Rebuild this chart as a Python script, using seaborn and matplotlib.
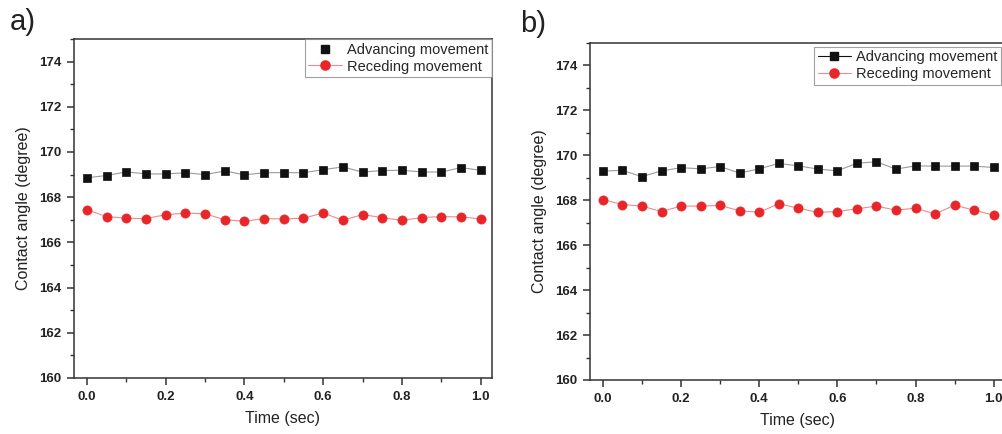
import numpy as np
import pandas as pd
import matplotlib
matplotlib.use("Agg")
import matplotlib.pyplot as plt
from matplotlib.lines import Line2D
from matplotlib.ticker import MultipleLocator
import seaborn as sns

time_sec = [0.0, 0.05, 0.1, 0.15, 0.2, 0.25, 0.3, 0.35, 0.4, 0.45, 0.5,
            0.55, 0.6, 0.65, 0.7, 0.75, 0.8, 0.85, 0.9, 0.95, 1.0]

adv_a = [168.86, 168.96, 169.12, 169.03, 169.03, 169.08, 169.00, 169.16, 168.99, 169.08, 169.09,
         169.08, 169.22, 169.34, 169.11, 169.18, 169.19, 169.12, 169.11, 169.31, 169.19]
rec_a = [167.44, 167.14, 167.07, 167.05, 167.23, 167.29, 167.27, 167.00, 166.94, 167.05, 167.04,
         167.07, 167.30, 166.98, 167.23, 167.10, 166.97, 167.10, 167.14, 167.13, 167.04]

adv_b = [169.30, 169.33, 169.05, 169.31, 169.45, 169.40, 169.50, 169.21, 169.40, 169.64, 169.53,
         169.39, 169.31, 169.65, 169.71, 169.39, 169.53, 169.52, 169.52, 169.52, 169.46]
rec_b = [168.03, 167.81, 167.74, 167.50, 167.74, 167.74, 167.77, 167.53, 167.47, 167.84, 167.65,
         167.46, 167.50, 167.62, 167.74, 167.56, 167.65, 167.39, 167.78, 167.56, 167.34]

panel_labels = ["a)", "b)"]
series_names = ["Advancing movement", "Receding movement"]
xlabel = "Time (sec)"
ylabel = "Contact angle (degree)"
xticks = [0.0, 0.2, 0.4, 0.6, 0.8, 1.0]
yticks = [160, 162, 164, 166, 168, 170, 172, 174]

sns.set_theme(style="ticks")
plt.rcParams["font.family"] = ["Liberation Sans", "DejaVu Sans"]

RED = "#e8262a"
RED_LINE = "#f08a8c"
BLK = "#111111"
GRAY_LINE = "#9a9a9a"
SPINE = "#333333"

fig = plt.figure(figsize=(10.03, 4.34), dpi=100)
W, H = 1003, 434
ax_a = fig.add_axes([74 / W, 1 - 378 / H, 418 / W, (378 - 39) / H])
ax_b = fig.add_axes([590 / W, 1 - 380 / H, 415 / W, (380 - 43) / H])

for ax, adv, rec, adv_line in [(ax_a, adv_a, rec_a, False),
                               (ax_b, adv_b, rec_b, True)]:
    df = pd.DataFrame({"t": time_sec, "adv": adv, "rec": rec})
    sns.lineplot(data=df, x="t", y="adv", ax=ax, color=GRAY_LINE, lw=0.8,
                 marker="s", markersize=5.8, markerfacecolor=BLK,
                 markeredgecolor=BLK, markeredgewidth=0.5, zorder=3)
    sns.lineplot(data=df, x="t", y="rec", ax=ax, color=RED_LINE, lw=0.8,
                 marker="o", markersize=6.6, markerfacecolor=RED,
                 markeredgecolor=RED, markeredgewidth=0.5, zorder=3)
    ax.set_xlim(-0.033, 1.029)
    ax.set_ylim(160, 175)
    ax.set_xticks(xticks)
    ax.set_xticklabels([f"{v:.1f}" for v in xticks])
    ax.set_yticks(yticks)
    ax.set_yticklabels([str(v) for v in yticks])
    ax.xaxis.set_minor_locator(MultipleLocator(0.1))
    ax.yaxis.set_minor_locator(MultipleLocator(1))
    ax.tick_params(which="major", direction="out", length=5, width=1.1,
                   color=SPINE, labelsize=9.5, labelcolor="#222222", pad=4)
    ax.tick_params(which="minor", direction="out", length=3, width=1.0, color=SPINE)
    for t in ax.get_xticklabels() + ax.get_yticklabels():
        t.set_fontweight("bold")
    for s in ax.spines.values():
        s.set_visible(True)
        s.set_color(SPINE)
        s.set_linewidth(1.1)
    ax.set_xlabel(xlabel, fontsize=11.5, color="#222222", labelpad=6)
    ax.set_ylabel(ylabel, fontsize=11.5, color="#222222", labelpad=6)

    if adv_line:
        h_adv = Line2D([], [], color=BLK, lw=0.8, marker="s", markersize=5.8,
                       markerfacecolor=BLK, markeredgecolor=BLK)
    else:
        h_adv = Line2D([], [], color="none", lw=0.8, marker="s", markersize=5.8,
                       markerfacecolor=BLK, markeredgecolor=BLK)
    h_rec = Line2D([], [], color=RED_LINE, lw=0.8, marker="o", markersize=6.6,
                   markerfacecolor=RED, markeredgecolor=RED)
    leg = ax.legend([h_adv, h_rec], series_names, loc="upper right",
                    fontsize=10.5, frameon=True, fancybox=False,
                    borderaxespad=0.0 if not adv_line else 0.25,
                    handlelength=2.3, handletextpad=0.35, labelspacing=0.2,
                    borderpad=0.25)
    leg.get_frame().set_edgecolor("#888888")
    leg.get_frame().set_linewidth(0.8)

fig.text(10 / W, 1 - 22 / H, panel_labels[0], fontsize=21, va="center", ha="left", color="#222222")
fig.text(520 / W, 1 - 24 / H, panel_labels[1], fontsize=21, va="center", ha="left", color="#222222")

fig.savefig("out.png", dpi=100)
